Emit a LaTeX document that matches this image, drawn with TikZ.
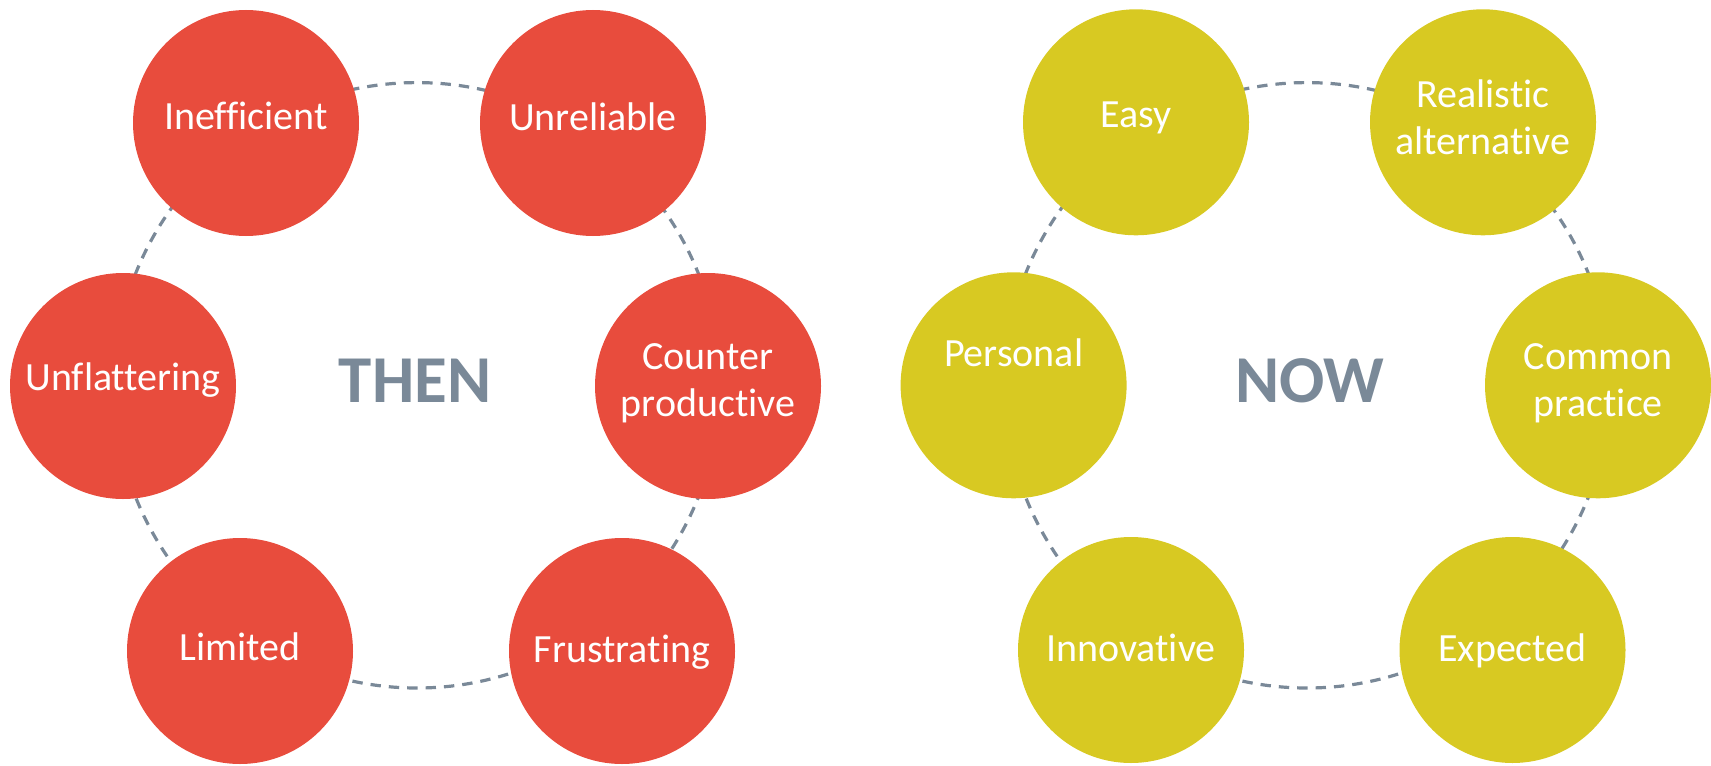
\documentclass[tikz,border=0pt]{standalone}
\usepackage{fontspec}
\setmainfont{Carlito}[Ligatures={NoCommon,NoContextual}]
\definecolor{cred}{HTML}{E84C3D}
\definecolor{cyel}{HTML}{D8C922}
\definecolor{cgray}{HTML}{7A8998}
\tikzset{
  bub/.style={circle, minimum size=113pt, inner sep=0pt, outer sep=0pt, text=white,
    font=\fontsize{20}{23.5}\selectfont},
  redb/.style={bub, fill=cred},
  yelb/.style={bub, fill=cyel},
  sh/.style={text height=#1, text depth=5pt},
  ringline/.style={draw=cgray, line width=1.6pt, dash pattern=on 5.2pt off 4pt},
  titletext/.style={text=cgray, font=\fontsize{33.5}{40}\selectfont\bfseries, anchor=base, inner sep=0pt}
}
\newcommand\twol[2]{\begin{tabular}[b]{@{}c@{}}#1\\#2\end{tabular}}
\begin{document}
\begin{tikzpicture}[x=0.5pt,y=-0.5pt]
\useasboundingbox (0,0) rectangle (1711,765);
\coordinate (cL) at (417,385.3);
\coordinate (cR) at (1307,385.3);
\draw[ringline] (cL) circle[radius=151.35pt];
\draw[ringline] (cR) circle[radius=151.35pt];
% THEN group
\node[redb, sh=11pt] (ineff) at (246,123) {Inefficient};
\node[redb, sh=12.7pt] (unrel) at (593,123) {Unreliable};
\node[redb, text height=35.4pt, text depth=5pt] (counter) at (708,386) {\twol{Counter}{productive}};
\node[redb, sh=16pt] (frust) at (622,651) {Frustrating};
\node[redb, sh=14.3pt] (limit) at (240,651) {Limited};
\node[redb, sh=9.4pt] (unfl) at (123,386) {Unflattering};
\node[titletext] (then) at (415,402.7) {THEN};
% NOW group
\node[yelb, sh=10.4pt] (easy) at (1136,122.3) {Easy};
\node[yelb, text height=37pt, text depth=5pt] (real) at (1483,122.3) {\twol{Realistic}{alternative}};
\node[yelb, text height=35.7pt, text depth=5pt] (common) at (1598,385.3) {\twol{Common}{practice}};
\node[yelb, sh=16pt] (expect) at (1512.5,650) {Expected};
\node[yelb, sh=16.7pt] (innov) at (1131,650) {Innovative};
\node[yelb, text height=5.7pt, text depth=25pt] (pers) at (1013.6,385.3) {Personal};
\node[titletext] (now) at (1310,402.7) {NOW};
\end{tikzpicture}
\end{document}
